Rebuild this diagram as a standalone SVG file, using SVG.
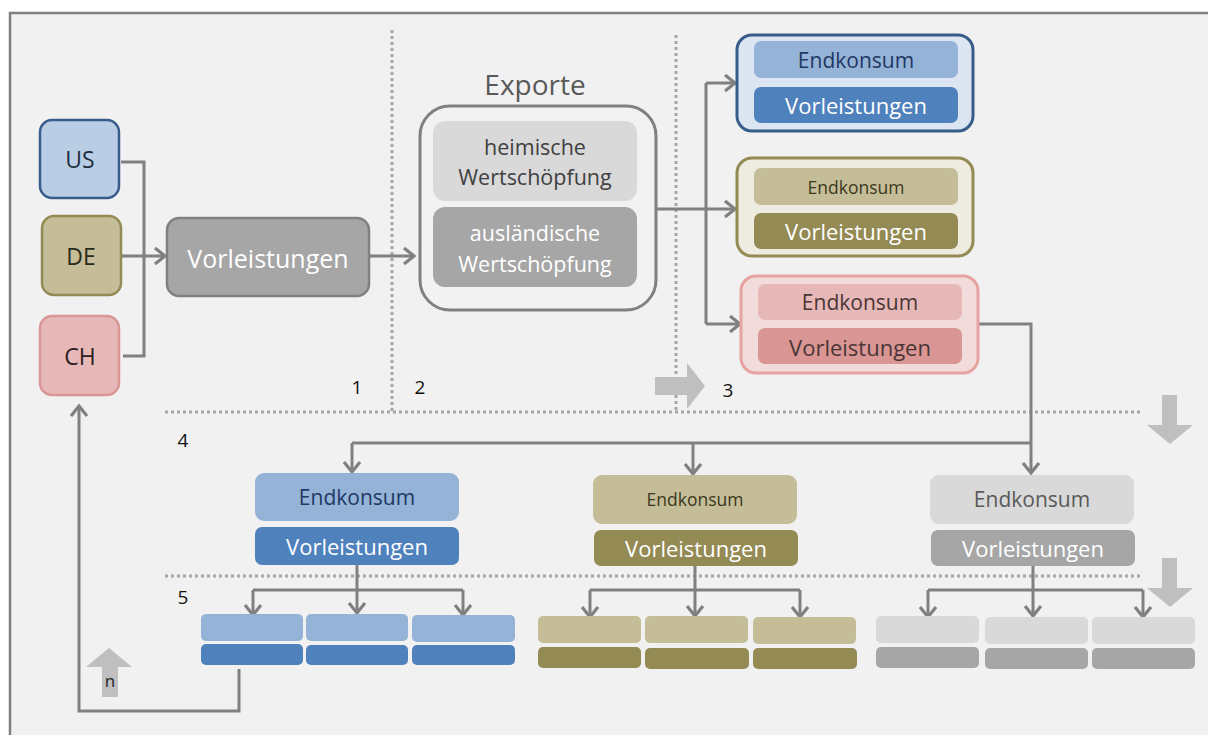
<svg xmlns="http://www.w3.org/2000/svg" width="1208" height="735" viewBox="0 0 1208 735">
  <style>
    text { font-family: "Open Sans", "Liberation Sans", sans-serif; text-anchor: middle; dominant-baseline: central; }
    .conn { fill: none; stroke: #808080; stroke-width: 3; }
    .dot { fill: none; stroke: #a6a6a6; stroke-width: 3; stroke-dasharray: 3 3; }
    .num { font-size: 19px; fill: #111; }
    .block { fill: #bfbfbf; }
  </style>
  <defs>
    <marker id="head" markerUnits="userSpaceOnUse" markerWidth="16" markerHeight="20" refX="13" refY="10" orient="auto">
      <path d="M3,2 L13,10 L3,18" fill="none" stroke="#808080" stroke-width="3.2"/>
    </marker>
  </defs>

  <!-- frame -->
  <rect x="0" y="0" width="1208" height="735" fill="#ffffff"/>
  <rect x="10" y="13" width="1210" height="740" fill="#f1f1f1" stroke="#808080" stroke-width="2.5"/>

  <!-- step separators -->
  <g id="separators">
    <path class="dot" d="M392,30 V412"/>
    <path class="dot" d="M676,35 V412"/>
    <path class="dot" d="M165,412 H1142"/>
    <path class="dot" d="M165,576 H1142"/>
  </g>

  <!-- step markers -->
  <g id="steps">
    <text class="num" x="357" y="387">1</text>
    <text class="num" x="420" y="387">2</text>
    <text class="num" x="728" y="390">3</text>
    <text class="num" x="183" y="440">4</text>
    <text class="num" x="183" y="597">5</text>
    <path class="block" d="M655,377 H687 V363 L705,386 L687,409 V395 H655 Z"/>
    <path class="block" d="M1162,395 H1177 V425 H1193 L1170,444 L1147,425 H1162 Z"/>
    <path class="block" d="M1162,558 H1177 V588 H1193 L1170,607 L1147,588 H1162 Z"/>
    <g id="iteration">
      <path class="block" d="M102,697 H118 V667 H132 L109,648 L86,667 H102 Z"/>
      <text x="110" y="680" style="font-size:17px" fill="#222">n</text>
    </g>
  </g>

  <!-- connectors -->
  <g id="connectors">
    <path class="conn" d="M121,162 H144 V356 H123"/>
    <path class="conn" d="M122,256 H165" marker-end="url(#head)"/>
    <path class="conn" d="M369,256 H414" marker-end="url(#head)"/>
    <path class="conn" d="M656,209 H735" marker-end="url(#head)"/>
    <path class="conn" d="M706,83 V324"/>
    <path class="conn" d="M706,83 H735" marker-end="url(#head)"/>
    <path class="conn" d="M706,324 H740" marker-end="url(#head)"/>
    <path class="conn" d="M978,324 H1031 V473" marker-end="url(#head)"/>
    <path class="conn" d="M352,443 H1031"/>
    <path class="conn" d="M352,443 V472" marker-end="url(#head)"/>
    <path class="conn" d="M693,443 V474" marker-end="url(#head)"/>
    <path class="conn" d="M357,565 V613" marker-end="url(#head)"/>
    <path class="conn" d="M253,590 H463"/>
    <path class="conn" d="M253,590 V615" marker-end="url(#head)"/>
    <path class="conn" d="M463,590 V615" marker-end="url(#head)"/>
    <path class="conn" d="M695,566 V616" marker-end="url(#head)"/>
    <path class="conn" d="M590,590 H800"/>
    <path class="conn" d="M590,590 V617" marker-end="url(#head)"/>
    <path class="conn" d="M800,590 V617" marker-end="url(#head)"/>
    <path class="conn" d="M1033,566 V616" marker-end="url(#head)"/>
    <path class="conn" d="M928,590 H1143"/>
    <path class="conn" d="M928,590 V617" marker-end="url(#head)"/>
    <path class="conn" d="M1143,590 V617" marker-end="url(#head)"/>
    <path class="conn" d="M239,669 V711 H79 V406" marker-end="url(#head)"/>
  </g>

  <!-- countries -->
  <g id="us">
    <rect x="40" y="120" width="79" height="78" rx="12" fill="#b9cde5" stroke="#385d8a" stroke-width="2.5"/>
    <text x="80" y="159" style="font-size:23px" fill="#1f2d3d">US</text>
  </g>
  <g id="de">
    <rect x="42" y="216" width="79" height="79" rx="12" fill="#c4bd97" stroke="#948a54" stroke-width="2.5"/>
    <text x="81" y="256" style="font-size:23px" fill="#2b2a1a">DE</text>
  </g>
  <g id="ch">
    <rect x="40" y="316" width="79" height="79" rx="12" fill="#e6b9b8" stroke="#d99694" stroke-width="2.5"/>
    <text x="80" y="356" style="font-size:23px" fill="#2d2020">CH</text>
  </g>

  <g id="vorleistungen">
    <rect x="167" y="218" width="202" height="78" rx="12" fill="#a6a6a6" stroke="#808080" stroke-width="2.5"/>
    <text x="268" y="258" style="font-size:25px" fill="#ffffff">Vorleistungen</text>
  </g>

  <g id="exporte">
    <text x="535" y="84" style="font-size:28px" fill="#595959">Exporte</text>
    <rect x="420" y="106" width="236" height="204" rx="30" fill="#f2f2f2" stroke="#808080" stroke-width="3"/>
    <rect x="433" y="121" width="204" height="80" rx="12" fill="#d9d9d9"/>
    <text x="535" y="146" style="font-size:21.5px" fill="#404040">heimische</text>
    <text x="535" y="176" style="font-size:21.5px" fill="#404040">Wertschöpfung</text>
    <rect x="433" y="207" width="204" height="80" rx="12" fill="#a6a6a6"/>
    <text x="535" y="232" style="font-size:21.5px" fill="#ffffff">ausländische</text>
    <text x="535" y="263" style="font-size:21.5px" fill="#ffffff">Wertschöpfung</text>
  </g>

  <!-- destination countries, step 3 -->
  <g id="dest-us">
    <rect x="737" y="35" width="236" height="96" rx="15" fill="#dce6f2" stroke="#385d8a" stroke-width="3"/>
    <rect x="754" y="41" width="204" height="37" rx="7" fill="#95b3d7"/>
    <text x="856" y="60" style="font-size:21px" fill="#1f3864">Endkonsum</text>
    <rect x="754" y="87" width="204" height="36" rx="7" fill="#4f81bd"/>
    <text x="856" y="105" style="font-size:22px" fill="#ffffff">Vorleistungen</text>
  </g>
  <g id="dest-de">
    <rect x="737" y="158" width="236" height="98" rx="15" fill="#eeece1" stroke="#948a54" stroke-width="3"/>
    <rect x="754" y="168" width="204" height="37" rx="7" fill="#c4bd97"/>
    <text x="856" y="187" style="font-size:17.5px" fill="#3b3820">Endkonsum</text>
    <rect x="754" y="213" width="204" height="36" rx="7" fill="#948a54"/>
    <text x="856" y="231" style="font-size:22px" fill="#ffffff">Vorleistungen</text>
  </g>
  <g id="dest-ch">
    <rect x="741" y="276" width="237" height="97" rx="15" fill="#f2dcdb" stroke="#e6a3a2" stroke-width="3"/>
    <rect x="758" y="284" width="204" height="36" rx="7" fill="#e6b9b8"/>
    <text x="860" y="302" style="font-size:21px" fill="#4a3535">Endkonsum</text>
    <rect x="758" y="328" width="204" height="36" rx="7" fill="#d99694"/>
    <text x="860" y="347" style="font-size:22px" fill="#4a3535">Vorleistungen</text>
  </g>

  <!-- step 4 -->
  <g id="re-us">
    <rect x="255" y="473" width="204" height="48" rx="9" fill="#95b3d7"/>
    <text x="357" y="497" style="font-size:21px" fill="#1f3864">Endkonsum</text>
    <rect x="255" y="527" width="204" height="38" rx="7" fill="#4f81bd"/>
    <text x="357" y="546" style="font-size:22px" fill="#ffffff">Vorleistungen</text>
  </g>
  <g id="re-de">
    <rect x="593" y="475" width="204" height="49" rx="9" fill="#c4bd97"/>
    <text x="695" y="499" style="font-size:17.5px" fill="#3b3820">Endkonsum</text>
    <rect x="594" y="530" width="204" height="36" rx="7" fill="#948a54"/>
    <text x="696" y="548" style="font-size:22px" fill="#ffffff">Vorleistungen</text>
  </g>
  <g id="re-other">
    <rect x="930" y="475" width="204" height="49" rx="9" fill="#d9d9d9"/>
    <text x="1032" y="499" style="font-size:21px" fill="#595959">Endkonsum</text>
    <rect x="931" y="530" width="204" height="36" rx="7" fill="#a6a6a6"/>
    <text x="1033" y="548" style="font-size:22px" fill="#ffffff">Vorleistungen</text>
  </g>

  <!-- step 5 -->
  <g id="next-us">
    <rect x="201" y="614" width="102" height="27" rx="5" fill="#95b3d7"/>
    <rect x="306" y="614" width="102" height="27" rx="5" fill="#95b3d7"/>
    <rect x="412" y="615" width="103" height="27" rx="5" fill="#95b3d7"/>
    <rect x="201" y="644" width="102" height="21" rx="5" fill="#4f81bd"/>
    <rect x="306" y="645" width="102" height="20" rx="5" fill="#4f81bd"/>
    <rect x="412" y="645" width="103" height="20" rx="5" fill="#4f81bd"/>
  </g>
  <g id="next-de">
    <rect x="538" y="616" width="103" height="27" rx="5" fill="#c4bd97"/>
    <rect x="645" y="616" width="103" height="27" rx="5" fill="#c4bd97"/>
    <rect x="753" y="617" width="103" height="27" rx="5" fill="#c4bd97"/>
    <rect x="538" y="647" width="103" height="21" rx="5" fill="#948a54"/>
    <rect x="645" y="648" width="104" height="21" rx="5" fill="#948a54"/>
    <rect x="753" y="648" width="104" height="21" rx="5" fill="#948a54"/>
  </g>
  <g id="next-other">
    <rect x="876" y="616" width="103" height="27" rx="5" fill="#d9d9d9"/>
    <rect x="985" y="617" width="103" height="27" rx="5" fill="#d9d9d9"/>
    <rect x="1092" y="617" width="103" height="27" rx="5" fill="#d9d9d9"/>
    <rect x="876" y="647" width="103" height="21" rx="5" fill="#a6a6a6"/>
    <rect x="985" y="648" width="103" height="21" rx="5" fill="#a6a6a6"/>
    <rect x="1092" y="648" width="103" height="21" rx="5" fill="#a6a6a6"/>
  </g>
</svg>
